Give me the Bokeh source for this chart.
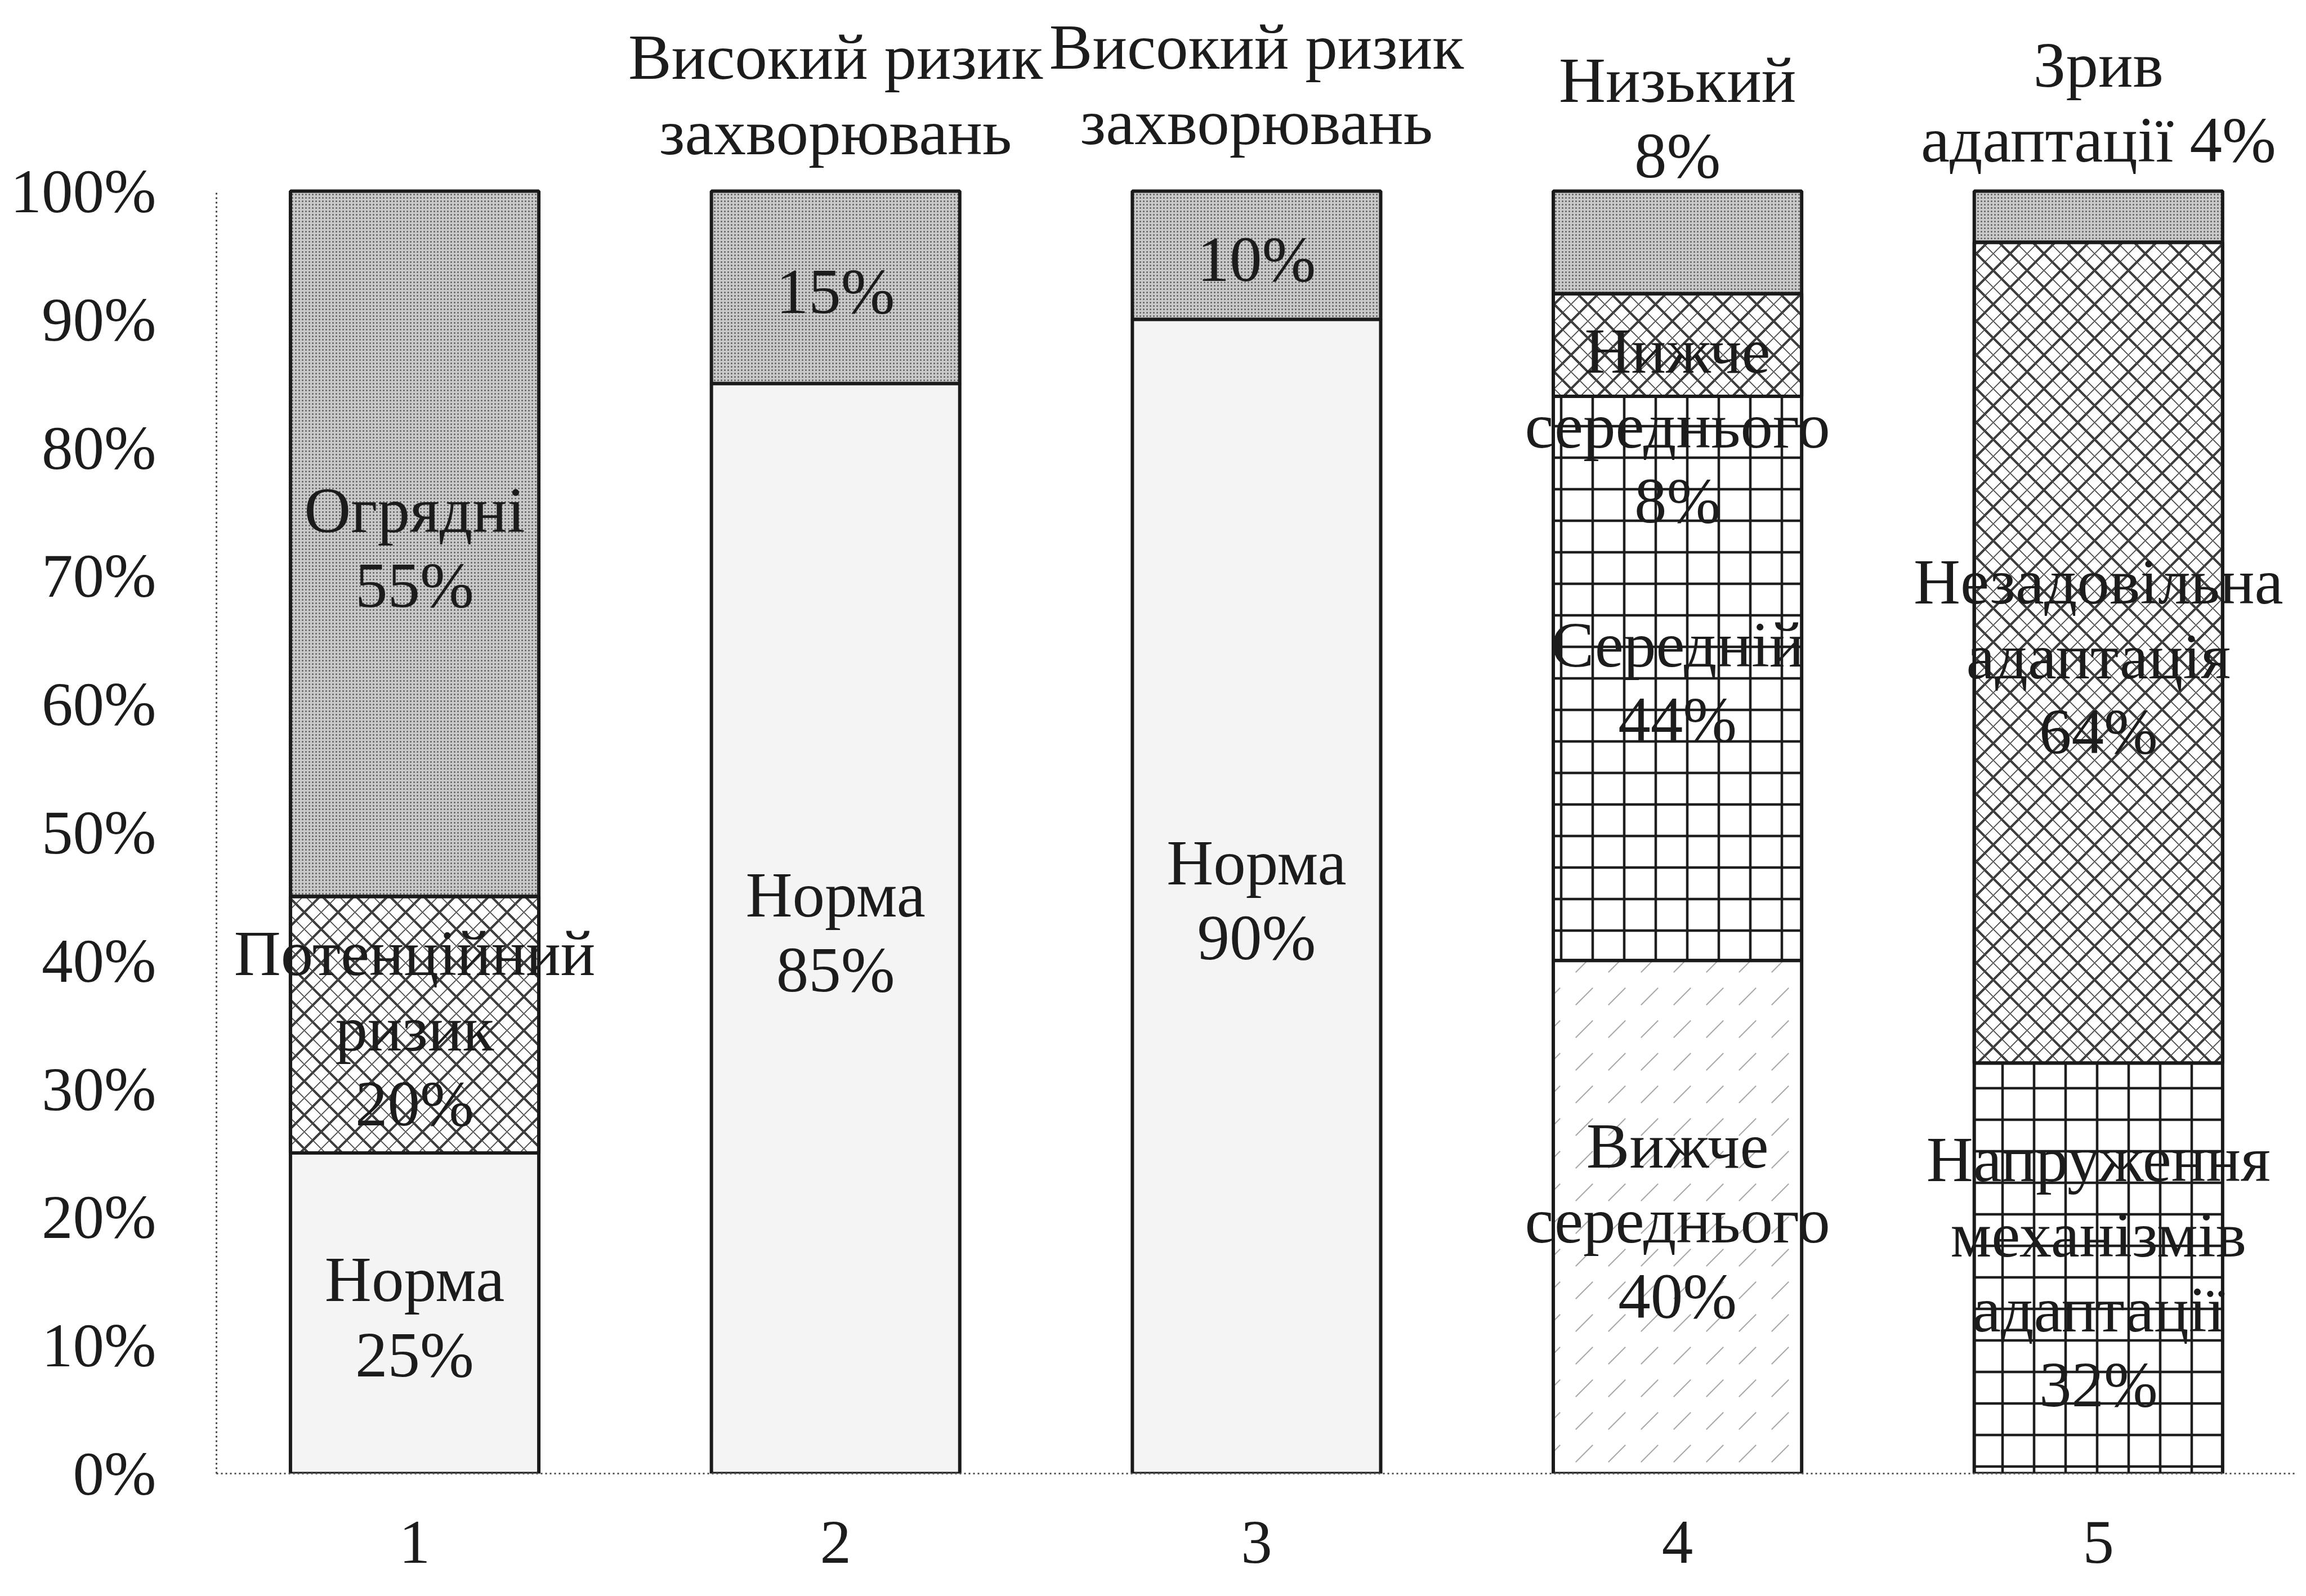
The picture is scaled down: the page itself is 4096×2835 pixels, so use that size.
from bokeh.plotting import figure
from bokeh.models import ColumnDataSource, FixedTicker, Range1d
from bokeh.core.properties import value
from bokeh.embed import file_html
from bokeh.resources import INLINE

# ---------------- data ----------------
categories = [1, 2, 3, 4, 5]
category_labels = ["1", "2", "3", "4", "5"]

bar1_values = [25, 20, 55]
bar1_labels = ["Норма\n25%", "Потенційний\nризик\n20%", "Огрядні\n55%"]
bar1_kinds = ["norm", "diag", "gray"]

bar2_values = [85, 15]
bar2_labels = ["Норма\n85%", "15%"]
bar2_kinds = ["norm", "gray"]

bar3_values = [90, 10]
bar3_labels = ["Норма\n90%", "10%"]
bar3_kinds = ["norm", "gray"]

bar4_values = [40, 44, 8, 8]
bar4_labels = ["Вижче\nсереднього\n40%", "Середній\n44%", "Нижче\nсереднього\n8%", ""]
bar4_kinds = ["dash", "grid", "diag", "gray"]

bar5_values = [32, 64, 4]
bar5_labels = ["Напруження\nмеханізмів\nадаптації\n32%", "Незадовільна\nадаптація\n64%", ""]
bar5_kinds = ["grid", "diag", "gray"]

top_labels = ["", "Високий ризик\nзахворювань", "Високий ризик\nзахворювань",
              "Низький\n8%", "Зрив\nадаптації 4%"]

y_ticks = [0, 10, 20, 30, 40, 50, 60, 70, 80, 90, 100]
y_tick_labels = [f"{t}%" for t in y_ticks]

# ---------------- layout / style ----------------
FONT = "Liberation Serif"
FS_AXIS = "111px"
FS_LABEL = "115px"
TXT = "#1c1c1c"
EDGE = "#1a1a1a"
BAR_W = 0.59
label_shift = -0.3
extra_shift = {(4, 2): -6.0}
top_label_offset = [0, 7.5, 8.3, 5.7, 6.9]

styles = {
    "norm": dict(fill_color="#f4f4f4"),
    "gray": dict(fill_color="#c9c9c9", hatch_pattern="dot", hatch_scale=6,
                 hatch_weight=2, hatch_color="#5e5e5e"),
    "diag": dict(fill_color="white", hatch_pattern="diagonal_cross", hatch_scale=60,
                 hatch_weight=4, hatch_color="#1e1e1e"),
    "grid": dict(fill_color="white", hatch_pattern="cross", hatch_scale=56,
                 hatch_weight=4.5, hatch_color="#1e1e1e"),
    "dash": dict(fill_color="white", hatch_pattern="right_diagonal_dash", hatch_scale=58,
                 hatch_weight=2, hatch_color="#a8a8a8"),
}

W, H = 4080, 2819
frame_left = 384
frame_bottom_px = 2617
px_per_unit = (2617 - 339) / 100.0
x_start = 1 - (736 - frame_left) / 747.7
x_end = x_start + (W - frame_left) / 747.7
y_end = frame_bottom_px / px_per_unit

p = figure(width=W, height=H, output_backend="svg", toolbar_location=None,
           x_range=Range1d(x_start, x_end), y_range=Range1d(0, y_end),
           min_border_left=frame_left, min_border_right=0, min_border_top=0,
           min_border_bottom=H - frame_bottom_px)
p.background_fill_color = "white"
p.border_fill_color = "white"
p.outline_line_color = None
p.grid.visible = False

bars = [
    (bar1_values, bar1_labels, bar1_kinds),
    (bar2_values, bar2_labels, bar2_kinds),
    (bar3_values, bar3_labels, bar3_kinds),
    (bar4_values, bar4_labels, bar4_kinds),
    (bar5_values, bar5_labels, bar5_kinds),
]

seg = {k: dict(left=[], right=[], bottom=[], top=[]) for k in styles}
lab = dict(x=[], y=[], text=[])
for bi, (vals, labels, kinds) in enumerate(bars):
    c = categories[bi]
    b = 0
    for si, (v, t, k) in enumerate(zip(vals, labels, kinds)):
        d = seg[k]
        d["left"].append(c - BAR_W / 2)
        d["right"].append(c + BAR_W / 2)
        d["bottom"].append(b)
        d["top"].append(b + v)
        if t:
            lab["x"].append(c)
            lab["y"].append(b + v / 2 + label_shift + extra_shift.get((bi + 1, si), 0))
            lab["text"].append(t)
        b += v
    if top_labels[bi]:
        lab["x"].append(c)
        lab["y"].append(b + top_label_offset[bi])
        lab["text"].append(top_labels[bi])

for k, st in styles.items():
    src = ColumnDataSource(seg[k])
    p.quad(left="left", right="right", bottom="bottom", top="top", source=src,
           line_color=EDGE, line_width=6, **st)
    if k == "diag":
        # finer secondary lines of the cross-hatch
        p.quad(left="left", right="right", bottom="bottom", top="top", source=src,
               fill_alpha=0, line_color=EDGE, line_width=6,
               hatch_pattern="diagonal_cross", hatch_scale=30, hatch_weight=1.8,
               hatch_color="#4a4a4a")

p.text(x="x", y="y", text="text", source=ColumnDataSource(lab),
       text_align="center", text_baseline="middle", text_font=value(FONT),
       text_font_size=FS_LABEL, text_color=TXT, text_line_height=1.05)

# axes
ya = p.yaxis[0]
ya.ticker = FixedTicker(ticks=y_ticks)
ya.major_label_overrides = {t: l for t, l in zip(y_ticks, y_tick_labels)}
ya.bounds = (0, 100)
ya.major_tick_line_color = None
ya.minor_tick_line_color = None
ya.axis_line_color = "#444444"
ya.axis_line_width = 3
ya.axis_line_dash = "3 5"
ya.major_label_standoff = 101
ya.major_label_text_font = FONT
ya.major_label_text_font_size = FS_AXIS
ya.major_label_text_color = TXT

xa = p.xaxis[0]
xa.ticker = FixedTicker(ticks=categories)
xa.major_label_overrides = {c: l for c, l in zip(categories, category_labels)}
xa.major_tick_line_color = None
xa.minor_tick_line_color = None
xa.axis_line_color = "#555555"
xa.axis_line_width = 3
xa.axis_line_dash = "3 5"
xa.major_label_standoff = 79
xa.major_label_text_font = FONT
xa.major_label_text_font_size = FS_AXIS
xa.major_label_text_color = TXT

open("out.html", "w").write(file_html(p, INLINE))
